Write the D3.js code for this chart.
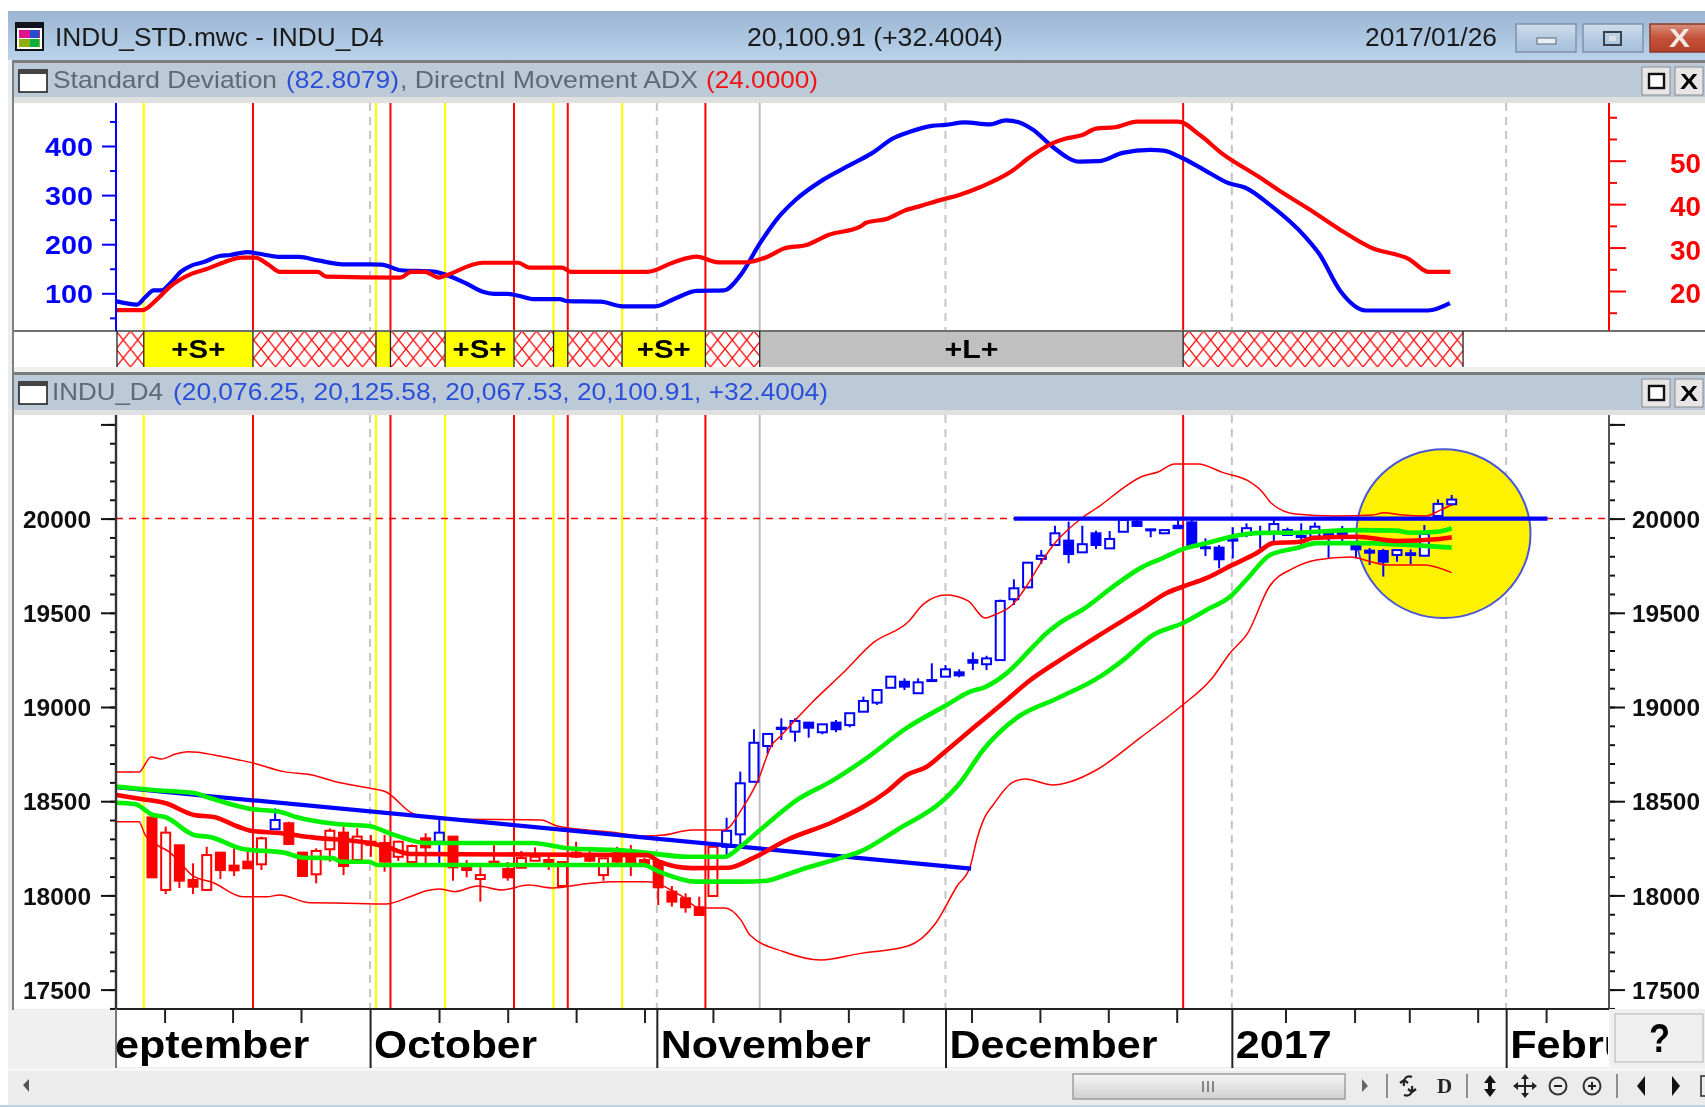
<!DOCTYPE html>
<html><head><meta charset="utf-8">
<script src="https://cdnjs.cloudflare.com/ajax/libs/d3/7.8.5/d3.min.js"></script>
<style>
html,body{margin:0;padding:0;background:#fff;overflow:hidden}
svg{display:block;filter:blur(0.45px)}
text{font-family:"Liberation Sans",Arial,sans-serif}
</style></head><body><div id="chart"></div>
<script>
// ---------- data ----------
const candleOpen=[18414,18029,18266,18082,18029,18227,18158,18179,18165,18351,
18383,18227,18112,18245,18333,18188,18285,18278,18205,18177,
18303,18285,18312,18149,18087,18179,18140,18147,18184,18188,
18050,18227,18214,18108,18227,18205,18188,18179,18020,17985,
17937,17997,18258,18324,18603,18793,18890,18869,18917,18866,
18917,18904,18975,19023,19102,19134,19073,19140,19161,19184,
19249,19227,19249,19572,19635,19786,19860,19883,19821,19922,
19842,19930,19984,19938,19922,19962,19980,19848,19846,19890,
19913,19929,19930,19913,19908,19904,19922,19925,19856,19830,
19828,19807,19816,19803,20014,20076.25];
const candleHigh=[18414,18365,18266,18170,18258,18227,18250,18232,18312,18462,
18391,18227,18250,18356,18365,18356,18320,18321,18290,18270,
18330,18404,18312,18188,18149,18267,18177,18236,18255,18214,
18177,18285,18258,18197,18258,18267,18200,18179,18050,18011,
17993,18258,18412,18657,18882,18857,18940,18940,18917,18908,
18931,18967,19055,19090,19161,19152,19152,19232,19223,19200,
19290,19272,19570,19678,19766,19833,19962,19984,19962,19936,
19934,20008,20003,19943,19939,20008,20003,19895,19860,19954,
19975,19962,19996,19952,19975,19980,19922,19961,19876,19844,
19839,19833,19837,19966,20102,20125.58];
const candleLow=[18096,18007,18039,18007,18029,18087,18103,18144,18135,18351,
18268,18098,18064,18179,18108,18188,18205,18126,18183,18172,
18170,18161,18078,18096,17967,18156,18078,18147,18184,18135,
18050,18198,18177,18078,18172,18103,18150,17949,17940,17908,
17891,17997,18205,18258,18603,18751,18825,18816,18837,18855,
18866,18892,18975,19011,19102,19090,19073,19140,19161,19158,
19196,19196,19249,19541,19635,19759,19860,19763,19821,19839,
19842,19930,19961,19901,19922,19949,19851,19801,19736,19789,
19901,19842,19869,19908,19860,19901,19789,19877,19789,19754,
19692,19771,19759,19803,20014,20067.53];
const candleClose=[18096,18333,18078,18046,18214,18135,18133,18144,18303,18400,
18273,18103,18236,18343,18156,18312,18268,18179,18285,18262,
18255,18333,18149,18135,18108,18156,18096,18198,18205,18161,
18177,18205,18184,18197,18179,18170,18156,18043,17967,17937,
17896,18258,18343,18595,18810,18857,18883,18926,18890,18908,
18882,18967,19032,19090,19161,19108,19131,19143,19200,19168,
19235,19258,19563,19630,19766,19803,19922,19812,19864,19860,
19892,19993,19961,19943,19939,19949,19851,19844,19784,19883,
19949,19923,19971,19939,19902,19957,19908,19913,19837,19819,
19771,19833,19807,19918,20078,20100.91];
const blueBarsBeforeTrend=[9,21];
const firstBlueBar=42;

const bbUpperBars=[-2.6,-0.95,-0.07,0.66,1.72,2.63,3.36,4.53,6.36,7.38,9.63,11.7,13.5,15.86,17.08,19.15,20.07,22.44,28.44,29.6,33.48,36.18,37.35,39.47,41.8,43.2,44.3,45.3,45.9,47.37,48.3,50.5,52.7,55.26,56.43,58.04,59.65,60.9,61.55,62.87,63.9,64.96,66,68.1,69.37,70.98,72.27,73.58,74.75,76.46,78.29,80.1,81.14,81.8,83.6,86.45,89.25,90.03,91.45,93.13,94.2,94.99];
const bbUpperVals=[18655,18655,18735,18724,18750,18763,18760,18745,18719,18703,18657,18639,18602,18570,18550,18432,18421,18405,18400,18368,18336,18315,18320,18347,18347,18469,18612,18798,18842,18958,19028,19180,19340,19451,19549,19594,19563,19472,19488,19541,19639,19764,19870,20010,20072,20162,20221,20249,20290,20290,20244,20201,20143,20083,20024,20014,20019,20031,20019,20014,20046,20072];
const bbLowerBars=[-2.6,-0.95,-0.5,0.5,1.24,2.32,2.92,4.53,6.65,8.4,9.33,11.55,13.5,17.08,18.86,20.07,20.98,22.15,23.8,25.58,27.53,29.31,31.56,33.48,36.18,38.6,40.06,41.85,43.05,43.7,46.13,48.9,51.68,55.26,57.24,58.85,59.8,60.28,60.89,61.48,62.84,63.82,65.86,67.1,69.15,72.2,75.15,77.5,78.8,80.1,81.65,83.48,85.09,87.65,89.1,90.28,93.03,94.99];
const bbLowerVals=[18391,18391,18321,18262,18232,18152,18108,18066,17993,17993,18002,17961,17960,17954,17993,18025,18034,18020,18050,18029,18055,18039,18060,18073,18073,18002,17933,17933,17869,17790,17702,17657,17691,17731,17848,18050,18152,18294,18418,18480,18597,18618,18586,18603,18671,18835,19000,19154,19287,19393,19637,19738,19780,19796,19771,19754,19754,19713];
const maUpperBars=[-2.6,0.07,3.07,4.24,7.24,9.33,10.53,13.5,15.86,17.69,20.07,27.82,30.19,34.98,39.18,41.85,42.98,44.44,47.13,49.8,52.24,55.17,58.09,59.8,60.89,62.48,64.4,65.4,66.13,68.33,70.25,72.44,73.9,75.15,77.1,79.53,81,83.19,88.06,90.99,91.96,93.9,95];
const maUpperVals=[18577,18559,18543,18517,18459,18444,18416,18379,18368,18321,18278,18278,18252,18236,18205,18205,18257,18347,18506,18612,18729,18889,19011,19081,19106,19180,19320,19393,19435,19532,19639,19745,19791,19833,19870,19913,19924,19925,19939,19936,19925,19930,19949];
const maMidBars=[-2.6,-0.8,0.95,3.07,4.53,6.36,7.24,9.33,11.7,15.86,17.08,18.86,36.18,37.06,39.47,42.15,43.93,46.4,49.8,53.7,55.17,56.63,57.97,60.28,62.48,64.04,66.37,69.06,72.44,74.17,75.27,77.1,78.8,80.75,81.94,83.92,84.87,88.06,90.99,93.9,95];
const maMidVals=[18533,18512,18490,18427,18416,18363,18343,18331,18308,18278,18258,18220,18214,18179,18145,18147,18198,18294,18391,18550,18639,18683,18763,18904,19037,19134,19249,19373,19525,19605,19637,19685,19748,19817,19870,19877,19897,19904,19881,19890,19901];
const maLowerBars=[-2.6,-1.26,0.07,0.95,3.07,4.24,6.65,9.63,11.11,13.2,13.8,15.86,16.49,35.89,37.06,39.77,42.98,44.93,45.9,47.37,50.29,51.75,54.68,57.6,59.06,60.75,63.2,66.23,69.3,70.98,73.17,75.37,77.34,78.8,80.02,81.73,83.68,85.14,88.06,95];
const maLowerVals=[18492,18485,18427,18416,18321,18310,18246,18227,18200,18198,18179,18179,18161,18161,18126,18073,18073,18078,18098,18135,18198,18232,18358,18490,18597,18772,18942,19048,19161,19249,19382,19446,19525,19585,19678,19807,19844,19870,19870,19846];

const stdBars=[-2.65,-1.09,-0.48,0.12,0.72,1.32,2.12,2.92,3.73,4.93,5.73,6.93,8.14,9.34,10.74,12.13,13.95,16.76,18.16,20.57,21.56,22.98,24.18,24.98,25.98,26.78,27.98,29.79,30.39,32.8,34.4,36.8,38.2,39.8,41.8,43.02,44.42,45.83,47.03,49.04,51,52.6,54.2,55.4,57,58,59.4,61.2,62.4,63.4,64.4,65.8,67.8,69.2,70.95,72.95,73.94,75.34,76.93,78.73,79.92,81.72,84.3,85.3,86.9,88.7,93.27,94.87];
const stdVals=[84,77,92.5,106,106,120,144,157,163,176,178,184,179,174,174,167,159,158.5,147,144,137,120,103,99,99,95,88,88,84,83,73.5,73.5,89,105,106,137,201,256,290,331,361,385,416,429,441,443,448,444,452,448,433,399,368,369,386,392,390.5,375,351,324,315,280,215,181,103,65,65,80];
const adxBars=[-2.65,-0.69,0.31,1.32,2.92,3.93,5.33,6.53,7.53,8.54,9.34,12.13,12.75,18.16,18.96,19.96,20.96,21.56,24.18,26.78,27.58,29.99,30.59,36.2,38.2,39.8,41.4,43.4,45,46.2,47.84,49.44,51.76,52.2,53.8,55,56.2,57.8,59,60.6,62.8,64.2,65.8,66.8,68,69,70.4,72,75,76.6,78.2,80.9,82.5,84.5,86.9,89.1,91.9,93.3,94.9];
const adxVals=[15.6,15.6,17.9,21,24,25,26.7,27.7,27.7,26,24.4,24.4,23.3,23.1,24.4,24.4,23.1,23.7,26.5,26.5,25.4,25.4,24.4,24.4,26.7,27.9,26.6,26.6,27.9,29.8,30.6,32.9,34.8,35.7,36.7,38.5,39.6,41.1,42.1,44,47.5,50.9,54,55.1,55.9,57.4,57.7,59,59,55.9,51.7,46.3,42.9,39,34,30,27.3,24.4,24.4];

const trendBars=[-2.63,59.87];
const trendVals=[18574,18142];
const resistanceBars=[63,102];
const resistanceVals=[20000,20000];
const referenceLevel=20000;

const yellowEvents=[-0.6,16.37,21.42,29.35,34.36];
const redEvents=[7.38,17.43,26.46,30.39,40.45,75.37];
const dashedEvents=[15.94,36.9,58,78.93,98.98];
const solidGrayEvents=[44.42];

const bandEdges=[-2.56,-0.6,7.38,16.37,17.43,21.42,26.46,29.35,30.39,34.36,40.45,44.42,75.37,95.83];
const bandKinds=["x","S","x","Y","x","S","x","Y","x","S","x","L","x"];
const bandLabels={S:"+S+",L:"+L+"};

const monthBars=[-5.1,15.94,36.9,58,78.93,98.98];
const monthNames=["September","October","November","December","2017","Febru"];
const weekBars=[0.92,5.89,10.89,20.98,26,31,36,41,45.9,50.9,54.9,59.9,64.9,69.9,74.9,82.85,87.9,91.9,96.9,101.9];

const priceMajor=[17500,18000,18500,19000,19500,20000,20500];
const priceMinor=d3.range(17400,20501,100);
const stdMajor=[100,200,300,400];
const stdMinor=[50,150,250,350,450];
const adxMajor=[20,30,40,50];
const adxMinor=[15,25,35,45,55,60];

const focusBar=94.4, focusPrice=19920, focusBarRadius=6.36, focusPriceRadius=448;

// ---------- layout ----------
const W=1705,H=1107;
const svg=d3.select("#chart").append("svg").attr("width",W).attr("height",H);
const defs=svg.append("defs");
const x=d3.scaleLinear().domain([0,95]).range([152,1451.7]);
const yMain=d3.scaleLinear().domain([17500,20000]).range([989.6,518.6]);
const yStd=d3.scaleLinear().domain([100,400]).range([293.3,146]);
const yAdx=d3.scaleLinear().domain([20,50]).range([291,160.7]);
const L=116,R=1609,T1=103,B1=331,T2=415,B2=1009;

function rect(g,x0,y0,w,h,fill,stroke,sw){const r=g.append("rect").attr("x",x0).attr("y",y0).attr("width",w).attr("height",h).attr("fill",fill);
  if(stroke)r.attr("stroke",stroke).attr("stroke-width",sw||1);return r;}
function txt(g,s,x0,x1,y,size,fill,weight,anchor){return g.append("text").text(s).attr("x",x0).attr("y",y).attr("font-size",size).attr("fill",fill)
  .attr("font-weight",weight||"normal").attr("textLength",x1-x0).attr("lengthAdjust","spacingAndGlyphs").attr("text-anchor",anchor||"start");}

// gradients and patterns
const grad=defs.append("linearGradient").attr("id","tb").attr("x2",0).attr("y2",1);
grad.append("stop").attr("offset",0).attr("stop-color","#9bb4d2");grad.append("stop").attr("offset",1).attr("stop-color","#bad3eb");
const btn=defs.append("linearGradient").attr("id","btn").attr("x2",0).attr("y2",1);
btn.append("stop").attr("offset",0).attr("stop-color","#cfdeee");btn.append("stop").attr("offset",.5).attr("stop-color","#b5cbe2");btn.append("stop").attr("offset",1).attr("stop-color","#a6c0dc");
const btnR=defs.append("linearGradient").attr("id","btnR").attr("x2",0).attr("y2",1);
btnR.append("stop").attr("offset",0).attr("stop-color","#d98f7d");btnR.append("stop").attr("offset",.5).attr("stop-color","#c4523a");btnR.append("stop").attr("offset",1).attr("stop-color","#b5402a");
const thumbGrad=defs.append("linearGradient").attr("id","thumb").attr("x2",0).attr("y2",1);
thumbGrad.append("stop").attr("offset",0).attr("stop-color","#f6f6f6");thumbGrad.append("stop").attr("offset",1).attr("stop-color","#cfcfcf");
const pat=defs.append("pattern").attr("id","hatch").attr("patternUnits","userSpaceOnUse").attr("width",14.5).attr("height",18).attr("x",0).attr("y",331);
pat.append("rect").attr("width",14.5).attr("height",18).attr("fill","#fff");
pat.append("path").attr("d","M0,0L14.5,18M14.5,0L0,18").attr("stroke","#ff1010").attr("stroke-width",1.4);
defs.append("clipPath").attr("id","clipAll").append("rect").attr("x",L).attr("y",T1).attr("width",R-L).attr("height",B2-T1);
defs.append("clipPath").attr("id","clipMonths").append("rect").attr("x",L).attr("y",1012).attr("width",R-L-1).attr("height",56);

// ---------- window chrome ----------
const chrome=svg.append("g");
rect(chrome,8,11,W-8,49,"url(#tb)");
rect(chrome,8,60,W-8,1047,"#e9eef3");
rect(chrome,12,60,W-12,3,"#7d7d7d");
rect(chrome,14,63,W-14,34,"#bccad8");
rect(chrome,14,97,W-14,6,"#e0e0e0");
rect(chrome,14,B1-1,W-14,38,"#fff");
rect(chrome,14,367,W-14,5,"#f0f0f0");
rect(chrome,14,372,W-14,3,"#7d7d7d");
rect(chrome,14,375,W-14,35,"#bccad8");
rect(chrome,14,410,W-14,5,"#e0e0e0");
rect(chrome,14,T1,W-14,B1-T1,"#fff");
rect(chrome,14,T2,W-14,B2-T2,"#fff");
rect(chrome,12,60,2,952,"#808080");
// title-bar icon
rect(chrome,16,23,27,27,"#fff","#111",2);
rect(chrome,19,30,21,8,"#e0148c");rect(chrome,19,39,21,8,"#8fae10");
rect(chrome,30,30,9,8,"#2050d0");rect(chrome,30,39,9,8,"#10b040");
rect(chrome,16,23,27,5,"#112");
txt(chrome,"INDU_STD.mwc - INDU_D4",55,384,46,25,"#1a1a1a");
txt(chrome,"20,100.91 (+32.4004)",747,1003,46,25,"#1a1a1a");
txt(chrome,"2017/01/26",1365,1497,46,25,"#1a1a1a");
rect(chrome,1516,24,60,28,"url(#btn)","#7f93a8",1.5);
rect(chrome,1583,24,60,28,"url(#btn)","#7f93a8",1.5);
rect(chrome,1650,24,60,28,"url(#btnR)","#8a3a2a",1.5);
rect(chrome,1537,38,19,6,"#e9eef4","#5a6a7a",1);
rect(chrome,1604,32,17,13,"none","#39424c",2);rect(chrome,1609,36,7,5,"#d9e2ea");
txt(chrome,"X",1669,1690,47,25,"#f4e8e4","bold");
// panel icons + headers
function panelHeader(y){
  rect(chrome,19,y+7,28,22,"#fff","#222",1.6);rect(chrome,19,y+7,28,4,"#444");
  rect(chrome,1642,y+4,28,28,"#e6e6e6","#8a8a8a",1);rect(chrome,1649,y+11,15,14,"#fff","#111",2.4);
  rect(chrome,1675,y+4,28,28,"#e6e6e6","#8a8a8a",1);txt(chrome,"X",1680,1698,y+26,22,"#000","bold");
}
panelHeader(63);panelHeader(375);
txt(chrome,"Standard Deviation",53,277,88,24,"#5d6974");
txt(chrome,"(82.8079)",286,399,88,24,"#2a4fd8");
txt(chrome,", Directnl Movement ADX",400,698,88,24,"#5d6974");
txt(chrome,"(24.0000)",706,818,88,24,"#f01414");
txt(chrome,"INDU_D4",52,163,400,24,"#5d6974");
txt(chrome,"(20,076.25, 20,125.58, 20,067.53, 20,100.91, +32.4004)",173,828,400,24,"#2a4fd8");

// ---------- band strip ----------
const band=svg.append("g");
rect(band,14,B1-1,W-14,2,"#6f6f6f");
bandKinds.forEach((k,i)=>{
  const x0=x(bandEdges[i]),x1=x(bandEdges[i+1]);
  const f=k==="x"?"url(#hatch)":(k==="L"?"#c0c0c0":"#ffff00");
  rect(band,x0,B1+1,x1-x0,35,f);
  if(bandLabels[k]){const c=(x0+x1)/2;txt(band,bandLabels[k],c-27,c+27,358,25,"#000","bold");}
});
band.selectAll("line.edge").data(bandEdges).join("line").attr("class","edge")
  .attr("x1",d=>x(d)).attr("x2",d=>x(d)).attr("y1",B1).attr("y2",367).attr("stroke","#222").attr("stroke-width",1.3);

// ---------- vertical event lines ----------
function eventLines(g,y0,y1){
  function put(data,color,sw,dash){g.selectAll(null).data(data).join("line").attr("x1",d=>x(d)).attr("x2",d=>x(d)).attr("y1",y0).attr("y2",y1)
    .attr("stroke",color).attr("stroke-width",sw).attr("stroke-dasharray",dash||null);}
  put(dashedEvents,"#c4c4c4",2,"8 6");
  put(solidGrayEvents,"#bdbdbd",2);
  put(yellowEvents,"#ffff00",2.2);
  put(redEvents,"#ff0000",2);
}

// ---------- top panel ----------
const topPanel=svg.append("g");
eventLines(topPanel,T1,B1-1);
const lineStd=d3.line().x((d,i)=>x(stdBars[i])).y(d=>yStd(d)).curve(d3.curveMonotoneX);
const lineAdx=d3.line().x((d,i)=>x(adxBars[i])).y(d=>yAdx(d)).curve(d3.curveMonotoneX);
topPanel.append("path").attr("d",lineStd(stdVals)).attr("fill","none").attr("stroke","#0000ff").attr("stroke-width",4.2);
topPanel.append("path").attr("d",lineAdx(adxVals)).attr("fill","none").attr("stroke","#ff0000").attr("stroke-width",4.2);
// top axes
function styleAxis(g,color,lab){
  g.select(".domain").remove();
  g.selectAll(".tick line").attr("stroke",color).attr("stroke-width",2);
  g.selectAll(".tick text").attr("fill",color).attr("font-family","Liberation Sans").attr("font-weight","bold");
  return g;
}
const stdMinorG=topPanel.append("g").attr("transform",`translate(${L},0)`).call(d3.axisLeft(yStd).tickValues(stdMinor).tickSize(6).tickFormat(""));styleAxis(stdMinorG,"#0000ff");
const stdG=topPanel.append("g").attr("transform",`translate(${L},0)`).call(d3.axisLeft(yStd).tickValues(stdMajor).tickSize(14).tickPadding(9).tickFormat(d3.format("d")));styleAxis(stdG,"#0000ff");
stdG.selectAll(".tick text").attr("font-size",26).attr("textLength",48).attr("lengthAdjust","spacingAndGlyphs").attr("dy","0.36em");
const adxMinorG=topPanel.append("g").attr("transform",`translate(${R},0)`).call(d3.axisRight(yAdx).tickValues(adxMinor).tickSize(8).tickFormat(""));styleAxis(adxMinorG,"#ff0000");
const adxG=topPanel.append("g").attr("transform",`translate(${R},0)`).call(d3.axisRight(yAdx).tickValues(adxMajor).tickSize(17).tickPadding(44).tickFormat(d3.format("d")));styleAxis(adxG,"#ff0000");
adxG.selectAll(".tick text").attr("font-size",27).attr("textLength",31).attr("lengthAdjust","spacingAndGlyphs").attr("dy","0.43em");
topPanel.append("line").attr("x1",L).attr("x2",L).attr("y1",T1).attr("y2",B1).attr("stroke","#0000ff").attr("stroke-width",2);
topPanel.append("line").attr("x1",R).attr("x2",R).attr("y1",T1).attr("y2",B1).attr("stroke","#ff0000").attr("stroke-width",2);

// ---------- main panel ----------
const mainPanel=svg.append("g");
eventLines(mainPanel,T2,B2);
mainPanel.append("line").attr("x1",L).attr("x2",R).attr("y1",yMain(referenceLevel)).attr("y2",yMain(referenceLevel))
  .attr("stroke","#ff0000").attr("stroke-width",1.5).attr("stroke-dasharray","7 6");
mainPanel.append("ellipse").attr("cx",x(focusBar)).attr("cy",yMain(focusPrice))
  .attr("rx",x(focusBar+focusBarRadius)-x(focusBar)).attr("ry",yMain(focusPrice-focusPriceRadius)-yMain(focusPrice))
  .attr("fill","#fff200").attr("stroke","#4a56d8").attr("stroke-width",2);

const plot=mainPanel.append("g").attr("clip-path","url(#clipAll)");
const barIndex=d3.range(candleOpen.length);
const barColor=i=>(i>=firstBlueBar||blueBarsBeforeTrend.includes(i))?"#0000ff":"#ff0000";
const bw=9;
const candleG=plot.selectAll("g.c").data(barIndex).join("g").attr("class","c");
candleG.append("line").attr("x1",i=>x(i)).attr("x2",i=>x(i)).attr("y1",i=>yMain(candleHigh[i])).attr("y2",i=>yMain(candleLow[i]))
  .attr("stroke",barColor).attr("stroke-width",2);
candleG.append("rect").attr("x",i=>x(i)-bw/2).attr("width",bw)
  .attr("y",i=>yMain(Math.max(candleOpen[i],candleClose[i])))
  .attr("height",i=>Math.max(1,Math.abs(yMain(candleOpen[i])-yMain(candleClose[i]))))
  .attr("fill",i=>candleClose[i]>=candleOpen[i]?"#fff":barColor(i))
  .attr("stroke",barColor).attr("stroke-width",2);

const lineOf=(bs,smooth)=>{const l=d3.line().x((d,i)=>x(bs[i])).y(d=>yMain(d));return smooth?l.curve(d3.curveMonotoneX):l;};
function priceLine(bs,vs,color,sw,smooth){plot.append("path").attr("d",lineOf(bs,smooth)(vs)).attr("fill","none").attr("stroke",color).attr("stroke-width",sw);}
priceLine(bbUpperBars,bbUpperVals,"#ff0000",1.5,true);
priceLine(bbLowerBars,bbLowerVals,"#ff0000",1.5,true);
priceLine(trendBars,trendVals,"#0000ff",4.2,false);
priceLine(maLowerBars,maLowerVals,"#00f000",4.6,true);
priceLine(maUpperBars,maUpperVals,"#00f000",4.6,true);
priceLine(maMidBars,maMidVals,"#ff0000",4.6,true);
priceLine(resistanceBars,resistanceVals,"#0000ff",4.2,false);

// main axes
function priceAxis(gen,tr,major){
  const g=mainPanel.append("g").attr("transform",`translate(${tr},0)`).call(gen);
  styleAxis(g,"#111");
  if(major)g.selectAll(".tick text").attr("font-size",23).attr("fill","#101010").attr("textLength",68).attr("lengthAdjust","spacingAndGlyphs").attr("dy","0.38em");
}
priceAxis(d3.axisLeft(yMain).tickValues(priceMinor).tickSize(6).tickFormat(""),L,false);
priceAxis(d3.axisLeft(yMain).tickValues(priceMajor).tickSize(15).tickPadding(10).tickFormat(v=>v>20000?"":d3.format("d")(v)),L,true);
priceAxis(d3.axisRight(yMain).tickValues(priceMinor).tickSize(6).tickFormat(""),R,false);
priceAxis(d3.axisRight(yMain).tickValues(priceMajor).tickSize(16).tickPadding(7).tickFormat(v=>v>20000?"":d3.format("d")(v)),R,true);
mainPanel.append("line").attr("x1",L).attr("x2",L).attr("y1",T2).attr("y2",B2).attr("stroke","#333").attr("stroke-width",2.4);
mainPanel.append("line").attr("x1",R).attr("x2",R).attr("y1",T2).attr("y2",B2).attr("stroke","#555").attr("stroke-width",2);

// ---------- date axis ----------
const foot=svg.append("g");
rect(foot,8,B2+1,L-8,58,"#f0f0f0");
rect(foot,L,B2,R-L,58,"#fff");
rect(foot,R,B2,W-R,60,"#f0f0f0");
rect(foot,8,1068,W-8,37,"#ececec");
rect(foot,0,1105,W,2,"#bcd3ea");
rect(foot,8,1068,W-8,3,"#f6f6f6");
foot.append("line").attr("x1",L).attr("x2",R).attr("y1",B2).attr("y2",B2).attr("stroke","#222").attr("stroke-width",2);
const wk=foot.append("g").attr("transform",`translate(0,${B2})`).call(d3.axisBottom(x).tickValues(weekBars).tickSize(14).tickFormat(""));
wk.select(".domain").remove();wk.selectAll(".tick line").attr("stroke","#222").attr("stroke-width",2);
const mo=foot.append("g").attr("transform",`translate(0,${B2})`).call(d3.axisBottom(x).tickValues(monthBars.slice(1)).tickSize(59).tickFormat(""));
mo.select(".domain").remove();mo.selectAll(".tick line").attr("stroke","#222").attr("stroke-width",2);
foot.append("line").attr("x1",L).attr("x2",L).attr("y1",B2).attr("y2",1068).attr("stroke","#777").attr("stroke-width",2);
const monthText=foot.append("g").attr("clip-path","url(#clipMonths)");
const monthWidths=[223,163,210,208,96,120];
monthNames.forEach((m,i)=>{const x0=x(monthBars[i])+4;
  txt(monthText,m,x0,x0+monthWidths[i],1058,38,"#000","bold");});
rect(foot,1615,1014,88,48,"#efefef","#c8c8c8",1.5);
txt(foot,"?",1649,1670,1052,40,"#000","bold");

// ---------- scroll bar and toolbar ----------
foot.append("path").attr("d","M29,1079L23,1085L29,1092Z").attr("fill","#555");
rect(foot,1073,1074,272,25,"url(#thumb)","#9a9a9a",1.4);
foot.selectAll("line.grip").data([1203,1208,1213]).join("line").attr("class","grip").attr("x1",d=>d).attr("x2",d=>d).attr("y1",1081).attr("y2",1092).attr("stroke","#666").attr("stroke-width",1.5);
foot.append("path").attr("d","M1362,1079L1368,1086L1362,1092Z").attr("fill","#666");
foot.selectAll("line.sep").data([1387,1467,1617]).join("line").attr("class","sep").attr("x1",d=>d).attr("x2",d=>d).attr("y1",1074).attr("y2",1098).attr("stroke","#777").attr("stroke-width",1.6);
foot.append("path").attr("d","M1412,1077c-6,-2 -9,2 -8,9M1404,1095c6,2 9,-2 8,-9M1400,1083l4,-3l4,3M1408,1089l4,3l4,-3").attr("fill","none").attr("stroke","#222").attr("stroke-width",2.2);
foot.append("text").text("D").attr("x",1437).attr("y",1093).attr("font-size",21).attr("font-weight","bold").attr("style","font-family:'Liberation Serif',serif").attr("fill","#222");
foot.append("path").attr("d","M1490,1075l6,8h-4v6h4l-6,8l-6,-8h4v-6h-4z").attr("fill","#111");
foot.append("path").attr("d","M1525,1074l4,5h-3v6h6v-3l5,4l-5,4v-3h-6v6h3l-4,5l-4,-5h3v-6h-6v3l-5,-4l5,-4v3h6v-6h-3z").attr("fill","#222");
foot.append("circle").attr("cx",1558).attr("cy",1086).attr("r",8.5).attr("fill","none").attr("stroke","#333").attr("stroke-width",2);
foot.append("line").attr("x1",1554).attr("x2",1562).attr("y1",1086).attr("y2",1086).attr("stroke","#222").attr("stroke-width",2);
foot.append("circle").attr("cx",1592).attr("cy",1086).attr("r",8.5).attr("fill","none").attr("stroke","#333").attr("stroke-width",2);
foot.append("path").attr("d","M1588,1086h8M1592,1082v8").attr("stroke","#222").attr("stroke-width",2);
foot.append("path").attr("d","M1645,1076L1637,1086L1645,1096Z").attr("fill","#111");
foot.append("path").attr("d","M1672,1076L1680,1086L1672,1096Z").attr("fill","#111");
rect(foot,1701,1076,8,20,"none","#333",1.6);
</script></body></html>
